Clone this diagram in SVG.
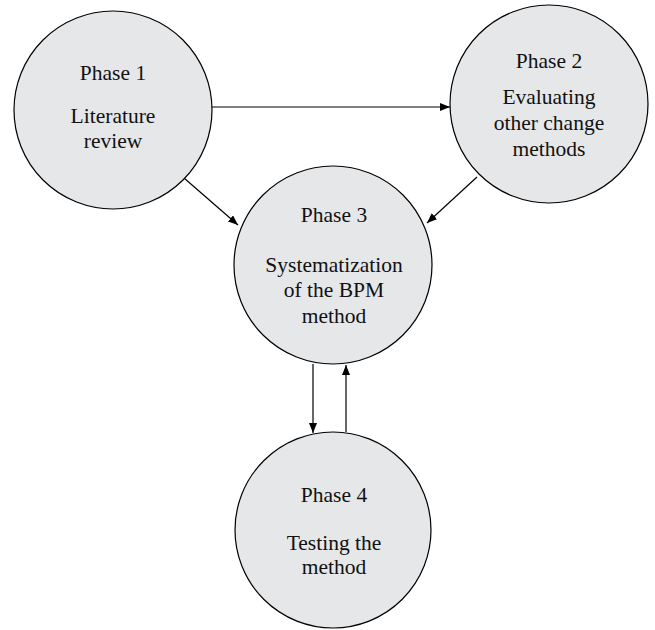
<svg xmlns="http://www.w3.org/2000/svg" width="655" height="630" viewBox="0 0 655 630">
<defs>
<style>
.node circle{fill:#e6e7e9;stroke:#000;stroke-width:1.2}
.node text{font-family:"Liberation Serif","Times New Roman",serif;font-size:21.5px;fill:#111;text-anchor:middle}
.edge{stroke:#000;stroke-width:1.2;fill:none;marker-end:url(#ah)}
</style>
<marker id="ah" markerWidth="10" markerHeight="8" refX="10" refY="4" orient="auto" markerUnits="userSpaceOnUse">
<path d="M0,0 L10,4 L0,8 Z" fill="#000"/>
</marker>
</defs>
<rect width="655" height="630" fill="#fff"/>
<g id="connectors">
<line class="edge" x1="212" y1="107" x2="450" y2="107"/>
<line class="edge" x1="184" y1="178" x2="238" y2="225"/>
<line class="edge" x1="477" y1="177" x2="427" y2="223"/>
<line class="edge" x1="313" y1="364" x2="313" y2="433"/>
<line class="edge" x1="346" y1="432" x2="346" y2="365"/>
</g>
<g id="phase1" class="node">
<circle cx="113" cy="110" r="99"/>
<text x="113" y="80">Phase 1</text>
<text x="113" y="123">Literature</text>
<text x="113" y="148">review</text>
</g>
<g id="phase2" class="node">
<circle cx="549" cy="104" r="99"/>
<text x="549" y="68">Phase 2</text>
<text x="549" y="104">Evaluating</text>
<text x="549" y="130">other change</text>
<text x="549" y="156">methods</text>
</g>
<g id="phase3" class="node">
<circle cx="333" cy="265" r="99"/>
<text x="334" y="222">Phase 3</text>
<text x="334" y="272">Systematization</text>
<text x="334" y="297">of the BPM</text>
<text x="334" y="323">method</text>
</g>
<g id="phase4" class="node">
<circle cx="333" cy="530" r="98"/>
<text x="334" y="502">Phase 4</text>
<text x="334" y="550">Testing the</text>
<text x="334" y="574">method</text>
</g>
</svg>
